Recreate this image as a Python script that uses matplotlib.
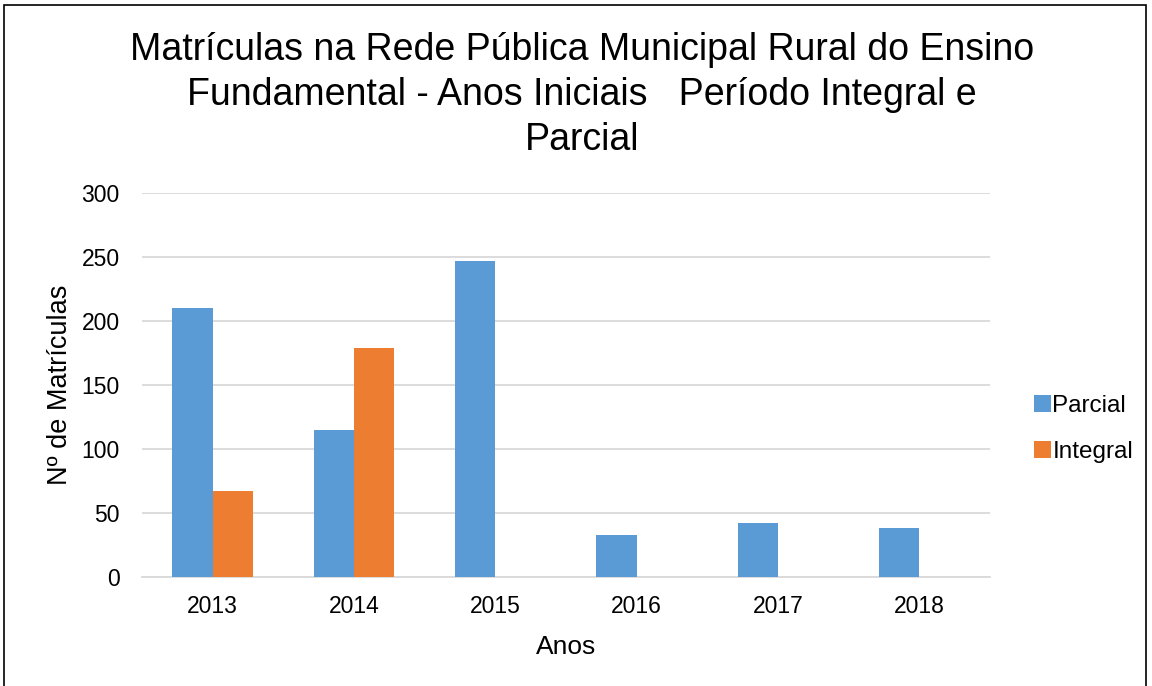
import numpy as np
import matplotlib
matplotlib.use('Agg')
import matplotlib.pyplot as plt
from matplotlib.patches import Rectangle

anos = ['2013', '2014', '2015', '2016', '2017', '2018']
parcial = [210, 115, 247, 33, 42, 38]
integral = [67, 179, 0, 0, 0, 0]

plt.rcParams['font.family'] = ['Liberation Sans', 'DejaVu Sans']

fig = plt.figure(figsize=(11.52, 6.86), dpi=100)
ax = fig.add_axes([142 / 1152, 1 - 577 / 686, 848 / 1152, 384 / 686])

x = np.arange(len(anos))
w = 0.285
ax.bar(x - w / 2, parcial, w, color='#5B9BD5', label='Parcial', zorder=3)
ax.bar(x + w / 2, integral, w, color='#ED7D31', label='Integral', zorder=3)

ax.set_xlim(-0.5, len(anos) - 0.5)
ax.set_ylim(0, 300)
ax.set_yticks(range(0, 301, 50))
ax.set_xticks(x)
ax.set_xticklabels(anos)
ax.grid(axis='y', color='#d9d9d9', linewidth=1.3, zorder=0)
for s in ['top', 'right', 'left']:
    ax.spines[s].set_visible(False)
ax.spines['bottom'].set_color('#d9d9d9')
ax.spines['bottom'].set_linewidth(1.3)
ax.tick_params(length=0, labelsize=16.5, colors='black')
ax.tick_params(axis='x', pad=13)
ax.tick_params(axis='y', pad=16)

ax.set_xlabel('Anos', fontsize=19, labelpad=12)
ax.set_ylabel('Nº de Matrículas', fontsize=19.5, labelpad=6)

fig.text(582 / 1152, 1 - 95 / 686,
         'Matrículas na Rede Pública Municipal Rural do Ensino\n'
         'Fundamental - Anos Iniciais   Período Integral e\nParcial',
         ha='center', va='center', fontsize=27, linespacing=1.33)

fig.legend(loc='center left', bbox_to_anchor=(1022 / 1152, 1 - 429 / 686),
           frameon=False, fontsize=17.5, handlelength=0.7, handleheight=0.7,
           handletextpad=0.05, labelspacing=0.95, borderpad=0)

fig.patches.append(Rectangle((4 / 1152, -0.01), 1142 / 1152, 1 - 5 / 686 + 0.01,
                             transform=fig.transFigure, fill=False,
                             edgecolor='black', linewidth=1.2))

fig.savefig('out.png', dpi=100, facecolor='white')
